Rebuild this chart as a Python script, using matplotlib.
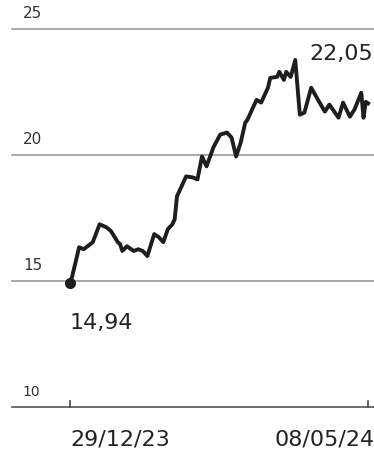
import matplotlib
matplotlib.use("Agg")
import matplotlib.pyplot as plt
import pandas as pd

dates = ["2023-12-29", "2023-12-30", "2024-01-02", "2024-01-04", "2024-01-08", "2024-01-11",
         "2024-01-14", "2024-01-16", "2024-01-19", "2024-01-20", "2024-01-21", "2024-01-23",
         "2024-01-26", "2024-01-28", "2024-01-30", "2024-02-01", "2024-02-04", "2024-02-06",
         "2024-02-08", "2024-02-10", "2024-02-12", "2024-02-13", "2024-02-14", "2024-02-16",
         "2024-02-18", "2024-02-21", "2024-02-23", "2024-02-25", "2024-02-27", "2024-03-01",
         "2024-03-04", "2024-03-07", "2024-03-09", "2024-03-11", "2024-03-13", "2024-03-15",
         "2024-03-16", "2024-03-18", "2024-03-20", "2024-03-22", "2024-03-25", "2024-03-26",
         "2024-03-29", "2024-03-30", "2024-04-01", "2024-04-02", "2024-04-04", "2024-04-06",
         "2024-04-08", "2024-04-10", "2024-04-13", "2024-04-16", "2024-04-19", "2024-04-21",
         "2024-04-25", "2024-04-27", "2024-04-30", "2024-05-02", "2024-05-05", "2024-05-06",
         "2024-05-07", "2024-05-08"]
values = [14.94, 15.20, 16.34, 16.26, 16.54, 17.25,
          17.13, 16.98, 16.54, 16.46, 16.19, 16.38,
          16.19, 16.26, 16.19, 15.99, 16.86, 16.74,
          16.54, 17.06, 17.25, 17.45, 18.36, 18.75,
          19.15, 19.11, 19.03, 19.94, 19.55, 20.30,
          20.81, 20.89, 20.69, 19.94, 20.49, 21.28,
          21.40, 21.80, 22.19, 22.08, 22.67, 23.06,
          23.10, 23.30, 22.98, 23.30, 23.10, 23.77,
          21.60, 21.68, 22.67, 22.19, 21.72, 22.00,
          21.48, 22.08, 21.52, 21.80, 22.47, 21.48,
          22.11, 22.05]
y_ticks = [10, 15, 20, 25]
x_tick_labels = ["29/12/23", "08/05/24"]
start_label = "14,94"
end_label = "22,05"

d = pd.to_datetime(dates)

fig = plt.figure(figsize=(3.74, 4.55), dpi=100)
ax = fig.add_axes([12/374, 48/455, 362/374, 378/455])
ax.set_ylim(10, 25)
ax.set_xlim(d[0] - pd.Timedelta(days=25.5), d[0] + pd.Timedelta(days=133.6))

for yv in y_ticks:
    col = "#555555" if yv == 10 else "#9a9a9a"
    ax.axhline(yv, color=col, lw=1.2, zorder=1, clip_on=False)
    ax.text(0.03, yv + 0.3, str(yv), transform=ax.get_yaxis_transform(),
            fontsize=11 if yv != 10 else 10, color="#333333", ha="left", va="bottom")

ax.plot(d, values, color="#1e1e1e", lw=2.8, solid_joinstyle="round", zorder=3)
ax.plot([d[0]], [values[0]], "o", color="#1e1e1e", ms=7, zorder=4, clip_on=False)

for dd in [d[0], d[-1]]:
    ax.plot([dd, dd], [10, 10.22], color="#444444", lw=1.2, clip_on=False)

ax.text(d[0], values[0] - 1.2, start_label, fontsize=16, color="#222222", ha="left", va="top")
ax.text(d[-1] + pd.Timedelta(days=2), 24.4, end_label, fontsize=16, color="#222222", ha="right", va="top")

ax.text(d[0], 9.1, x_tick_labels[0], fontsize=16, color="#222222", ha="left", va="top")
ax.text(d[-1] + pd.Timedelta(days=3), 9.1, x_tick_labels[1], fontsize=16, color="#222222",
        ha="right", va="top")

ax.set_xticks([])
ax.set_yticks([])
for s in ax.spines.values():
    s.set_visible(False)

fig.savefig("out.png", dpi=100)
